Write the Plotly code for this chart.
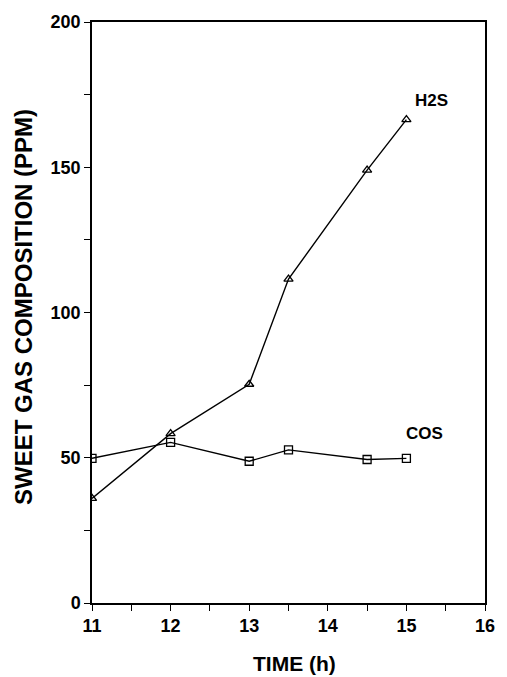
import plotly.graph_objects as go

# Sweet gas composition over time
h2s_time = [11, 12, 13, 13.5, 14.5, 15]
h2s_ppm = [36, 58.3, 75.3, 111.5, 149, 166.4]

cos_time = [11, 12, 13, 13.5, 14.5, 15]
cos_ppm = [49.8, 55.3, 48.8, 52.7, 49.4, 49.8]

x_ticks = [11, 12, 13, 14, 15, 16]
y_ticks = [0, 50, 100, 150, 200]

font_family = "Liberation Sans, Arial, sans-serif"

fig = go.Figure()
fig.add_trace(go.Scatter(
    x=h2s_time, y=h2s_ppm, mode="lines+markers", name="H2S",
    line=dict(color="black", width=1.4),
    marker=dict(symbol="triangle-up-open", size=8, color="black", line=dict(width=1.3)),
))
fig.add_trace(go.Scatter(
    x=cos_time, y=cos_ppm, mode="lines+markers", name="COS",
    line=dict(color="black", width=1.4),
    marker=dict(symbol="square-open", size=8, color="black", line=dict(width=1.3)),
))

# Series labels
fig.add_annotation(x=15.32, y=173, text="<b>H2S</b>", showarrow=False,
                   xanchor="center", yanchor="middle",
                   font=dict(family=font_family, size=17, color="black"))
fig.add_annotation(x=15.23, y=58.3, text="<b>COS</b>", showarrow=False,
                   xanchor="center", yanchor="middle",
                   font=dict(family=font_family, size=17, color="black"))

# Axis titles
fig.add_annotation(xref="paper", yref="paper", x=-0.175, y=0.51,
                   xanchor="center", yanchor="middle",
                   text="<b>SWEET GAS COMPOSITION (PPM)</b>", textangle=-90,
                   showarrow=False, font=dict(family=font_family, size=24, color="black"))
fig.add_annotation(xref="paper", yref="paper", x=0.516, y=-0.1034,
                   xanchor="center", yanchor="middle",
                   text="<b>TIME (h)</b>", showarrow=False,
                   font=dict(family=font_family, size=21, color="black"))

axis_common = dict(
    showgrid=False, zeroline=False, showline=True, linecolor="black", linewidth=1.5,
    mirror=True, ticks="outside", ticklen=6, tickwidth=1.3, tickcolor="black",
    tickfont=dict(family=font_family, size=18, color="black"),
)

fig.update_xaxes(
    range=[11, 16], tickvals=x_ticks, ticktext=[f"<b>{v}</b>" for v in x_ticks],
    minor=dict(ticks="outside", dtick=0.5, tick0=11, ticklen=6, tickwidth=1.3, tickcolor="black"),
    **axis_common,
)
fig.update_yaxes(
    range=[0, 200], tickvals=y_ticks, ticktext=[f"<b>{v}</b>" for v in y_ticks],
    minor=dict(ticks="outside", dtick=25, tick0=0, ticklen=6, tickwidth=1.3, tickcolor="black"),
    **axis_common,
)

fig.update_layout(
    width=507, height=677,
    margin=dict(l=92, r=20, t=13, b=74),
    paper_bgcolor="white", plot_bgcolor="white",
    showlegend=False,
)

fig.write_html("out.html")
